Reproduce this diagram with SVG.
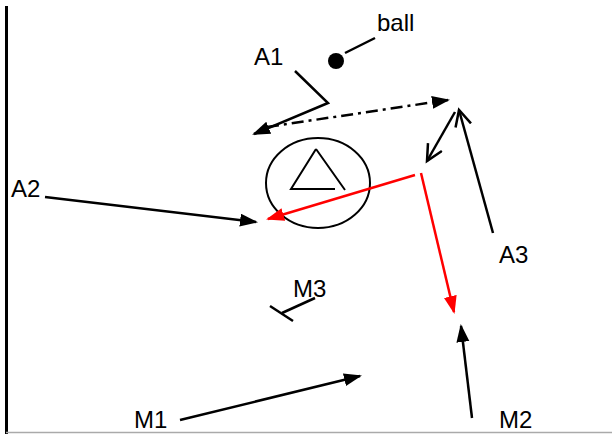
<svg xmlns="http://www.w3.org/2000/svg" width="612" height="434" viewBox="0 0 612 434">
<style>
.ln{stroke:#000;stroke-width:2.5;fill:none}
.rd{stroke:#f00;stroke-width:2.5;fill:none}
.lb{font-family:"Liberation Sans",Arial,sans-serif;font-size:24px;fill:#000}
</style>
<defs>
<marker id="fb" markerUnits="userSpaceOnUse" markerWidth="18" markerHeight="14" refX="16" refY="6.5" orient="auto"><path d="M0,0 L18,6.5 L0,13 z" fill="#000"/></marker>
<marker id="fr" markerUnits="userSpaceOnUse" markerWidth="18" markerHeight="14" refX="16" refY="6.5" orient="auto"><path d="M0,0 L18,6.5 L0,13 z" fill="#f00"/></marker>
<marker id="ob" markerUnits="userSpaceOnUse" markerWidth="20" markerHeight="20" refX="17" refY="9" orient="auto"><path d="M1,1 L17,9 L1,17" fill="none" stroke="#000" stroke-width="2.5"/></marker>
</defs>
<rect width="612" height="434" fill="#fff"/>
<g id="frame">
<line x1="6.5" y1="6" x2="6.5" y2="434" stroke="#000" stroke-width="3"/>
<line x1="6" y1="432.5" x2="612" y2="432.5" stroke="#aaa" stroke-width="1.5"/>
</g>
<g id="ball">
<circle cx="336" cy="61" r="8" fill="#000"/>
<line class="ln" x1="345" y1="53" x2="375" y2="38" stroke-width="2"/>
<text class="lb" x="377" y="31">ball</text>
</g>
<g id="goal">
<ellipse cx="318" cy="183" rx="52" ry="45" fill="none" stroke="#000" stroke-width="2"/>
<path d="M316,149 L291,189 L335,189 M316,149 L345,190" fill="none" stroke="#000" stroke-width="2"/>
</g>
<g id="A1"><text class="lb" x="254" y="65">A1</text></g>
<g id="A2"><text class="lb" x="11" y="197">A2</text></g>
<g id="A3"><text class="lb" x="499" y="263">A3</text></g>
<g id="M1"><text class="lb" x="134" y="428">M1</text></g>
<g id="M2"><text class="lb" x="499" y="428">M2</text></g>
<g id="M3"><text class="lb" x="293" y="297">M3</text></g>
<g id="connectors">
<polyline class="ln" points="295,71 328,103 254,134" marker-end="url(#fb)"/>
<line class="ln" x1="267" y1="127" x2="448" y2="100" stroke-dasharray="12,5,3,5" marker-end="url(#fb)"/>
<line class="ln" x1="493" y1="233" x2="459" y2="110" marker-end="url(#ob)"/>
<line class="ln" x1="455" y1="112" x2="427" y2="161" marker-end="url(#ob)"/>
<line class="rd" x1="415" y1="175" x2="268" y2="219" marker-end="url(#fr)"/>
<line class="rd" x1="421" y1="173" x2="454" y2="312" marker-end="url(#fr)"/>
<line class="ln" x1="45" y1="197" x2="256" y2="222" marker-end="url(#fb)"/>
<line class="ln" x1="180" y1="420" x2="360" y2="376" marker-end="url(#fb)"/>
<line class="ln" x1="472" y1="418" x2="461" y2="326" marker-end="url(#fb)"/>
<line class="ln" x1="315" y1="298" x2="282" y2="313" stroke-width="2"/>
<line class="ln" x1="270" y1="306" x2="293" y2="321" stroke-width="2"/>
</g>
</svg>
